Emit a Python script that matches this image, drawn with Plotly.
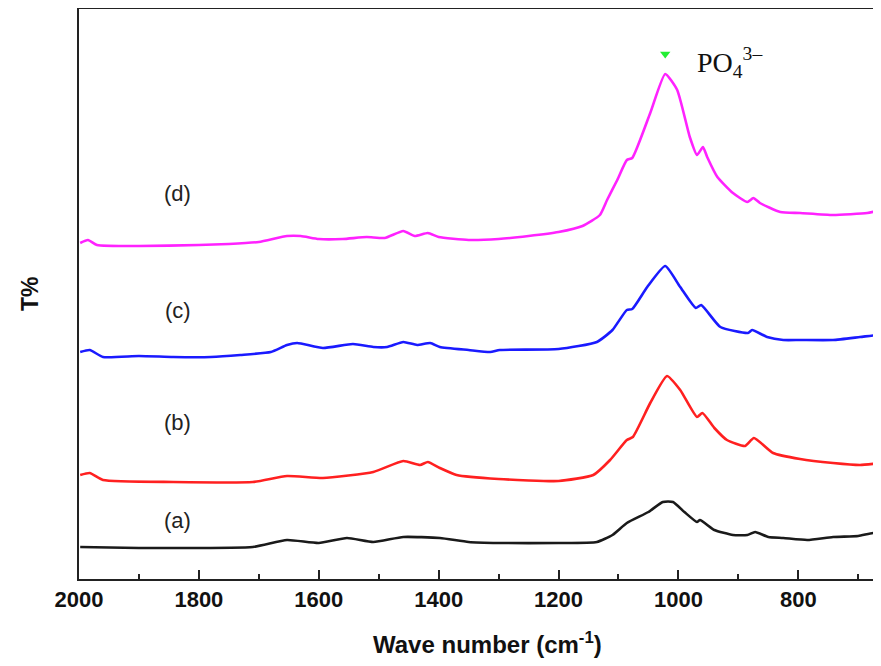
import plotly.graph_objects as go

# Wavenumbers (cm-1) and transmittance (arbitrary, offset)
wn_a = [1998, 1900, 1843, 1710, 1653, 1600, 1553, 1509, 1459, 1398, 1350, 1300, 1200, 1136, 1110,
        1086, 1050, 1026, 1009, 990, 969, 964, 940, 909, 885, 872, 850, 825, 785, 742, 700, 675, 662]
t_a = [32, 31, 31, 32, 39, 36, 41, 37, 42, 41, 37, 36, 36, 37, 44,
       56, 67, 77, 77, 67, 57, 59, 49, 44, 44, 47, 42, 41, 39, 42, 43, 46, 45]

wn_b = [1998, 1982, 1960, 1843, 1710, 1653, 1593, 1509, 1459, 1431, 1418, 1398, 1370, 1300, 1200,
        1142, 1114, 1086, 1076, 1047, 1019, 997, 969, 960, 940, 919, 889, 874, 842, 797, 742, 697, 662]
t_b = [104, 106, 99, 97, 97, 103, 101, 107, 118, 114, 117, 111, 104, 100, 98,
       104, 119, 139, 142, 176, 203, 189, 162, 166, 151, 139, 133, 141, 126, 120, 116, 114, 116]

wn_c = [1998, 1982, 1960, 1900, 1843, 1780, 1731, 1680, 1653, 1636, 1593, 1543, 1509, 1486, 1459,
        1436, 1414, 1398, 1350, 1314, 1298, 1200, 1136, 1110, 1086, 1077, 1052, 1022, 997, 971,
        962, 930, 884, 877, 852, 825, 797, 742, 697, 668, 662]
t_c = [227, 229, 222, 223, 222, 222, 224, 227, 234, 236, 231, 235, 232, 232, 237,
       234, 236, 232, 229, 227, 229, 230, 237, 249, 269, 270, 292, 313, 292, 271,
       274, 252, 246, 249, 242, 239, 239, 239, 242, 244, 244]

wn_d = [1998, 1985, 1970, 1900, 1800, 1750, 1700, 1653, 1630, 1600, 1560, 1520, 1490, 1459, 1440,
        1418, 1400, 1350, 1300, 1250, 1200, 1160, 1131, 1119, 1102, 1086, 1077, 1047, 1022, 1002,
        981, 969, 959, 952, 935, 909, 885, 875, 864, 830, 797, 742, 685, 662]
t_d = [336, 339, 334, 333, 334, 335, 337, 343, 343, 340, 340, 342, 341, 348, 343,
       346, 342, 339, 340, 343, 347, 353, 364, 379, 399, 419, 421, 466, 505, 489,
       442, 424, 432, 422, 402, 386, 377, 381, 376, 367, 366, 364, 366, 369]

series_names = ["(a)", "(b)", "(c)", "(d)"]
series_colors = ["#1a1a1a", "#ff2020", "#1a1aff", "#ff22ff"]
label_wn = 1835
label_t = [59, 157, 269, 386]

x_ticks = [2000, 1800, 1600, 1400, 1200, 1000, 800]
peak_wn = 1022
peak_mark_t = 525

fig = go.Figure()
for wn, t, name, col in zip([wn_a, wn_b, wn_c, wn_d], [t_a, t_b, t_c, t_d], series_names, series_colors):
    fig.add_trace(go.Scatter(x=wn, y=t, mode="lines", name=name,
                             line=dict(color=col, width=2.6, shape="spline", smoothing=0.5)))

fig.add_trace(go.Scatter(x=[peak_wn], y=[peak_mark_t], mode="markers",
                         marker=dict(symbol="triangle-down", size=9, color="#22ee33"),
                         showlegend=False))

for name, t in zip(series_names, label_t):
    fig.add_annotation(x=label_wn, y=t, text=name, showarrow=False,
                       font=dict(family="Liberation Sans, Arial", size=22, color="#222"),
                       xanchor="center", yanchor="middle")

fig.add_annotation(x=972, y=517, text="PO<sub>4</sub><sup>3\u2013</sup>", showarrow=False,
                   font=dict(family="Liberation Serif, Times New Roman", size=28, color="#111"),
                   xanchor="left", yanchor="middle")

fig.add_annotation(x=0.509, xref="paper", y=-0.112, yref="paper",
                   text="<b>Wave number (cm<sup>-1</sup>)</b>", showarrow=False,
                   font=dict(family="Liberation Sans, Arial", size=24, color="#111"),
                   xanchor="center", yanchor="middle")
fig.add_annotation(x=-0.061, xref="paper", y=0.5, yref="paper",
                   text="<b>T%</b>", showarrow=False, textangle=-90,
                   font=dict(family="Liberation Sans, Arial", size=23, color="#111"),
                   xanchor="center", yanchor="middle")

# The page places the figure 8 px from the window's top-left corner.
fig.update_layout(
    width=873, height=650,
    margin=dict(l=71, r=0, t=1, b=79),
    paper_bgcolor="white", plot_bgcolor="white",
    showlegend=False,
)
fig.update_xaxes(range=[2000, 662], showline=True, linecolor="#222", linewidth=2, mirror=True,
                 tickvals=x_ticks, ticks="inside", ticklen=9, tickwidth=2, tickcolor="#222",
                 minor=dict(dtick=100, tick0=0, ticks="inside", ticklen=5, tickwidth=2, tickcolor="#222"),
                 showgrid=False, zeroline=False,
                 tickfont=dict(family="Liberation Sans, Arial", size=22, color="#111", weight="bold"))
fig.update_yaxes(range=[0, 570], showline=True, linecolor="#222", linewidth=2, mirror=False,
                 showticklabels=False, ticks="", showgrid=False, zeroline=False)

fig.write_html("out.html")
